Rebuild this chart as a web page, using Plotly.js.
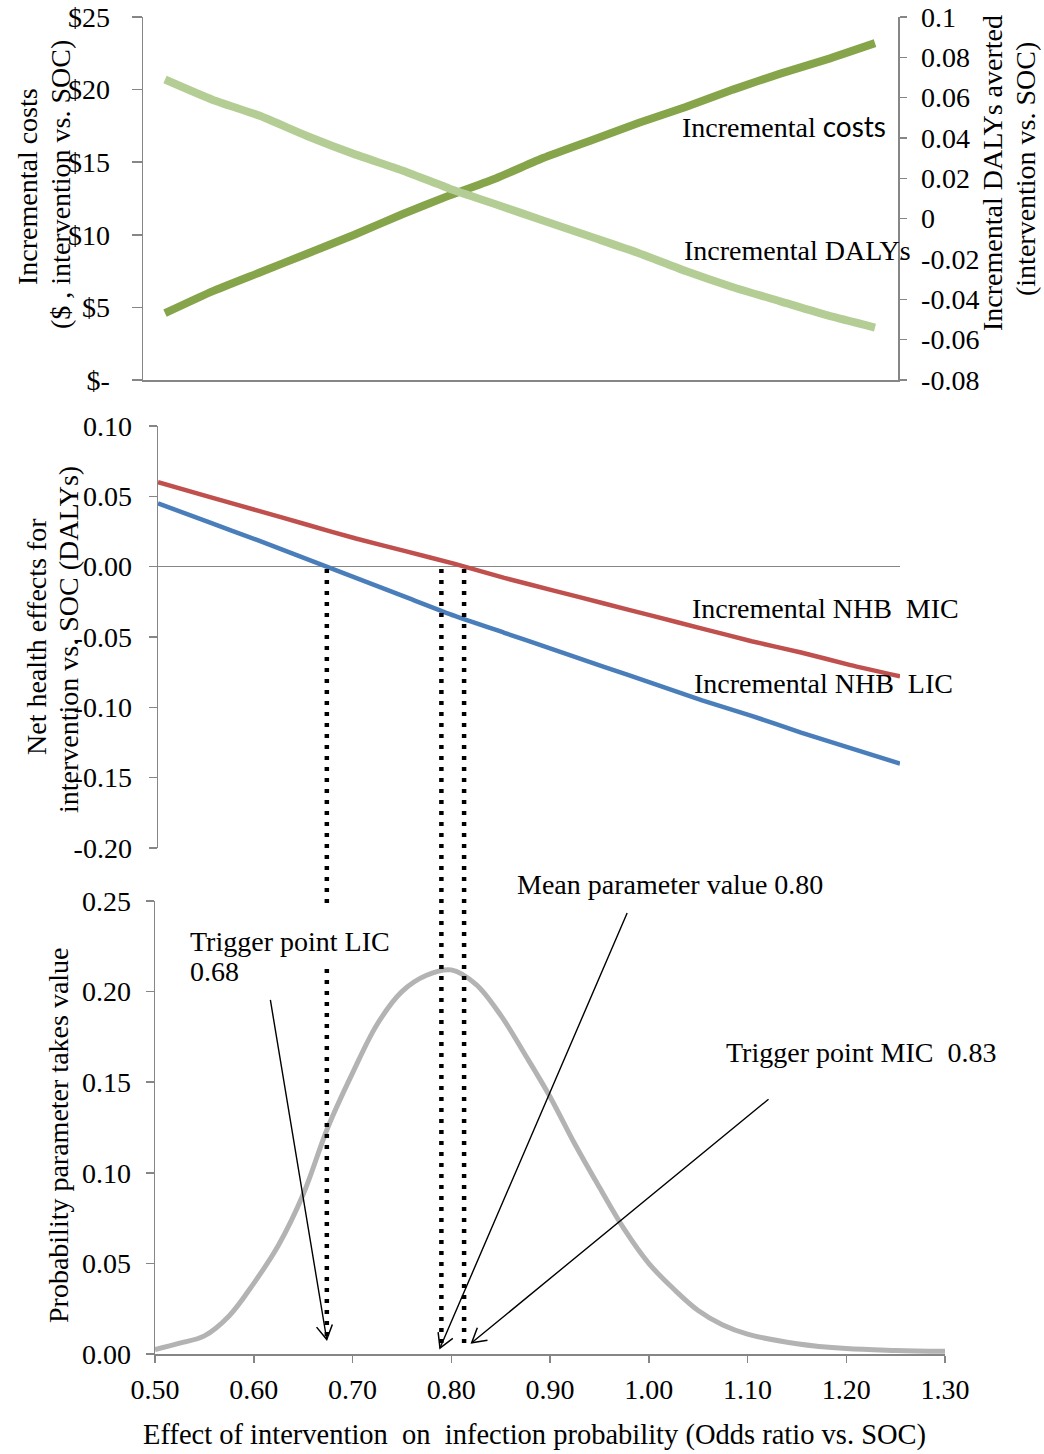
<!DOCTYPE html>
<html>
<head>
<meta charset="utf-8">
<script src="https://cdn.plot.ly/plotly-3.0.1.min.js"></script>
<style>html,body{margin:0;padding:0;background:#fff;}#chart{width:1044px;height:1454px;}</style>
</head>
<body>
<div id="chart"></div>
<script>
// ---------------- DATA ----------------
// Top panel: odds ratio vs incremental costs ($) and incremental DALYs averted
const orTop = [0.50,0.55,0.60,0.65,0.70,0.75,0.80,0.85,0.90,0.95,1.00,1.05,1.10,1.15,1.20,1.25];
const incCosts = [4.6,6.1,7.4,8.7,10.0,11.4,12.7,13.9,15.3,16.5,17.7,18.8,20.0,21.1,22.1,23.2];
const incDalys = [0.069,0.059,0.051,0.041,0.032,0.024,0.015,0.007,-0.001,-0.009,-0.017,-0.026,-0.034,-0.041,-0.048,-0.054];

// Middle panel: net health effects
const orMid = [0.50,0.55,0.60,0.65,0.70,0.75,0.80,0.85,0.90,0.95,1.00,1.05,1.10,1.15,1.20,1.25];
const nhbMIC = [0.060,0.050,0.040,0.030,0.020,0.011,0.002,-0.008,-0.017,-0.026,-0.035,-0.044,-0.053,-0.061,-0.070,-0.078];
const nhbLIC = [0.045,0.032,0.019,0.0055,-0.008,-0.0215,-0.035,-0.047,-0.059,-0.071,-0.083,-0.095,-0.106,-0.118,-0.129,-0.140];

// Bottom panel: probability distribution of the parameter
const orDist = [0.500,0.525,0.550,0.575,0.600,0.625,0.650,0.675,0.700,0.725,0.750,0.775,0.800,0.825,0.850,0.875,0.900,0.925,0.950,0.975,1.000,1.025,1.050,1.075,1.100,1.150,1.200,1.250,1.300];
const probDist = [0.0025,0.006,0.010,0.021,0.039,0.060,0.088,0.125,0.155,0.182,0.200,0.209,0.212,0.204,0.187,0.165,0.142,0.116,0.092,0.069,0.050,0.036,0.024,0.016,0.011,0.0057,0.003,0.002,0.0015];

// Vertical marker lines (LIC trigger, mean, MIC trigger) on the odds-ratio axis
const markerNames = ["Trigger LIC","Mean","Trigger MIC"];
const markerX = [0.674,0.790,0.813];

// Arrows: tail and tip in bottom-panel data units
const arrowTailX = [0.6165,0.979,1.1228];
const arrowTailY = [0.1965,0.2445,0.1413];
const arrowTipX  = [0.6739,0.7886,0.8207];
const arrowTipY  = [0.008,0.0033,0.0062];

// Tick labels
const costTickVals = [0,5,10,15,20,25];
const costTickText = ["$-","$5","$10","$15","$20","$25"];
const dalyTickVals = [-0.08,-0.06,-0.04,-0.02,0,0.02,0.04,0.06,0.08,0.1];
const dalyTickText = ["-0.08","-0.06","-0.04","-0.02","0","0.02","0.04","0.06","0.08","0.1"];
const nhbTickVals = [-0.2,-0.15,-0.1,-0.05,0,0.05,0.1];
const nhbTickText = ["-0.20","-0.15","-0.10","-0.05","0.00","0.05","0.10"];
const probTickVals = [0,0.05,0.1,0.15,0.2,0.25];
const probTickText = ["0.00","0.05","0.10","0.15","0.20","0.25"];
const orTickVals = [0.5,0.6,0.7,0.8,0.9,1.0,1.1,1.2,1.3];
const orTickText = ["0.50","0.60","0.70","0.80","0.90","1.00","1.10","1.20","1.30"];

// ---------------- LAYOUT HELPERS ----------------
const W = 1044, H = 1454;
const fx = p => p / W;
const fy = p => 1 - p / H;
const SERIF = "Liberation Serif, Times New Roman, serif";
const FS = 28;
const AX = '#868686';

// bottom panel geometry (for arrowhead orientation)
const botX = {p0:155, p1:945, r0:0.5, r1:1.3};
const botY = {p0:1354, p1:901, r0:0, r1:0.25};
const pxPerX = (botX.p1 - botX.p0) / (botX.r1 - botX.r0);
const pxPerY = (botY.p0 - botY.p1) / (botY.r1 - botY.r0);

const traces = [
  {x: orTop, y: incCosts, xaxis:'x', yaxis:'y', mode:'lines', name:'Incremental costs',
   line:{color:'#86A54B', width:8, shape:'spline', smoothing:0.5}},
  {x: orTop, y: incDalys, xaxis:'x', yaxis:'y2', mode:'lines', name:'Incremental DALYs',
   line:{color:'#B4CD94', width:8, shape:'spline', smoothing:0.5}},
  {x: orMid, y: nhbMIC, xaxis:'x2', yaxis:'y3', mode:'lines', name:'Incremental NHB MIC',
   line:{color:'#C0504D', width:4.5, shape:'spline', smoothing:0.5}},
  {x: orMid, y: nhbLIC, xaxis:'x2', yaxis:'y3', mode:'lines', name:'Incremental NHB LIC',
   line:{color:'#4A7EBB', width:4.5, shape:'spline', smoothing:0.5}},
  {x: orDist, y: probDist, xaxis:'x3', yaxis:'y4', mode:'lines', name:'Probability',
   line:{color:'#B3B3B3', width:5, shape:'spline', smoothing:1.0}}
];

const tickFont = {family: SERIF, size: FS, color:'#000'};
const baseY = {showline:true, linecolor:AX, linewidth:1.5, ticks:'outside', tickcolor:AX, tickwidth:1.5,
  showgrid:false, zeroline:false, tickfont:tickFont, fixedrange:true};

const layout = {
  width: W, height: H,
  margin: {l:0, r:0, t:0, b:0},
  paper_bgcolor:'#fff', plot_bgcolor:'rgba(0,0,0,0)',
  showlegend:false,
  font:{family: SERIF, size: FS, color:'#000'},
  xaxis: {domain:[fx(143), fx(898)], range:[0.47676, 1.2743], anchor:'y',
    showline:true, linecolor:AX, linewidth:1.5, ticks:'', showticklabels:false, showgrid:false, zeroline:false},
  yaxis: Object.assign({}, baseY, {domain:[fy(380), fy(17)], range:[0,25], anchor:'x',
    tickvals: costTickVals, ticktext: costTickText, ticklen:10, ticklabelstandoff:16}),
  yaxis2: Object.assign({}, baseY, {overlaying:'y', side:'right', anchor:'x', range:[-0.08,0.1],
    tickvals: dalyTickVals, ticktext: dalyTickText, ticklen:7, ticklabelstandoff:9}),
  xaxis2: {domain:[fx(158), fx(900)], range:[0.5,1.25], anchor:'y3', visible:false},
  yaxis3: Object.assign({}, baseY, {domain:[fy(848), fy(426)], range:[-0.2,0.1], anchor:'x2',
    tickvals: nhbTickVals, ticktext: nhbTickText, ticklen:8, ticklabelstandoff:11,
    zeroline:true, zerolinecolor:AX, zerolinewidth:1.5}),
  xaxis3: Object.assign({}, baseY, {domain:[fx(155), fx(945)], range:[0.5,1.3], anchor:'y4',
    tickvals: orTickVals, ticktext: orTickText, ticklen:7, ticklabelstandoff:3}),
  yaxis4: Object.assign({}, baseY, {domain:[fy(1354), fy(901)], range:[0,0.25], anchor:'x3',
    tickvals: probTickVals, ticktext: probTickText, ticklen:8, ticklabelstandoff:9}),
  shapes: [],
  annotations: []
};

// dotted vertical lines
const segs = [
  [[569,908],[969,1341]],
  [[569,1346]],
  [[569,1349]]
];
markerX.forEach((xv, i) => {
  segs[i].forEach(s => {
    layout.shapes.push({type:'line', xref:'x3', yref:'paper', x0:xv, x1:xv, y0:fy(s[0]), y1:fy(s[1]),
      line:{color:'#000', width:4.5, dash:'4px,7px'}, layer:'above'});
  });
});

// arrows: shafts via annotations, heads via pixel-sized path shapes
for (let i = 0; i < arrowTipX.length; i++) {
  layout.annotations.push({xref:'x3', yref:'y4', axref:'x3', ayref:'y4',
    x: arrowTipX[i], y: arrowTipY[i], ax: arrowTailX[i], ay: arrowTailY[i],
    text:' ', font:{size:1}, showarrow:true, arrowhead:0, arrowwidth:1.4, arrowcolor:'#000', standoff:0});
  let dx = (arrowTipX[i] - arrowTailX[i]) * pxPerX;
  let dy = (arrowTipY[i] - arrowTailY[i]) * pxPerY;
  const L = Math.hypot(dx, dy); dx /= L; dy /= L;
  const bx = -dx, by = -dy, a = Math.PI / 6, len = 16;
  const r = (ang) => [len * (bx * Math.cos(ang) - by * Math.sin(ang)), len * (bx * Math.sin(ang) + by * Math.cos(ang))];
  const p1 = r(a), p2 = r(-a);
  layout.shapes.push({type:'path', xref:'x3', yref:'y4', xsizemode:'pixel', ysizemode:'pixel',
    xanchor: arrowTipX[i], yanchor: arrowTipY[i],
    path: `M${p1[0].toFixed(2)},${p1[1].toFixed(2)} L0,0 L${p2[0].toFixed(2)},${p2[1].toFixed(2)}`,
    line:{color:'#000', width:1.5}, layer:'above'});
}

// text labels
function label(text, xp, yp, opts) {
  layout.annotations.push(Object.assign({xref:'paper', yref:'paper', x: fx(xp), y: fy(yp),
    text: text, showarrow:false, xanchor:'left', yanchor:'middle', font:{family:SERIF, size:FS, color:'#000'}}, opts || {}));
}
label('Incremental <span style="font-family:Lato, Carlito, sans-serif">costs</span>', 680, 126);
label('Incremental DALYs', 682, 250);
label('Incremental NHB  MIC', 690, 609);
label('Incremental NHB  LIC', 692, 683);
label('Mean parameter value 0.80', 515, 884);
label('Trigger point LIC', 188, 941);
label('0.68', 188, 972);
label('Trigger point MIC  0.83', 724, 1052);

// axis titles (rotated)
function vtitle(text, xp, yp) {
  label(text, xp, yp, {xanchor:'center', yanchor:'middle', textangle:-90});
}
vtitle('Incremental costs', 27, 187);
vtitle('($ , intervention vs. SOC)', 60, 185);
vtitle('Incremental DALYs averted', 993, 173);
vtitle('(intervention vs. SOC)', 1025, 169);
vtitle('Net health effects for', 36, 637);
vtitle('intervention vs. SOC (DALYs)', 68, 640);
vtitle('Probability parameter takes value', 58, 1135);
label('Effect of intervention  on  infection probability (Odds ratio vs. SOC)', 534, 1435,
  {xanchor:'center', font:{family:SERIF, size:28.5, color:'#000'}});

Plotly.newPlot('chart', traces, layout, {staticPlot:true, displayModeBar:false});
</script>
</body>
</html>
